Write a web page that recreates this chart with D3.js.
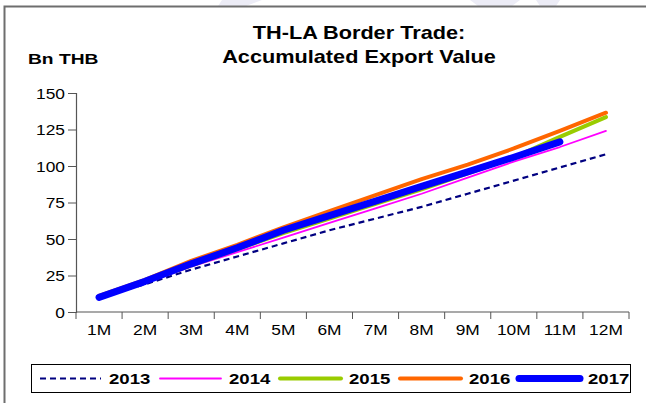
<!DOCTYPE html>
<html>
<head>
<meta charset="utf-8">
<script src="https://cdn.jsdelivr.net/npm/d3@7"></script>
<style>
  html, body { margin: 0; padding: 0; background: #fff; }
  svg { display: block; font-family: "Liberation Sans", Arial, sans-serif; }
</style>
</head>
<body>
<svg id="chart" width="646" height="403"></svg>
<script>
// Accumulated export value, TH-LA border trade (billion THB)
const months = ["1M","2M","3M","4M","5M","6M","7M","8M","9M","10M","11M","12M"];
const yTicks = [0, 25, 50, 75, 100, 125, 150];
const v2013 = [10, 19, 29, 38, 47, 56, 64, 72, 81, 90, 99, 108];
const v2014 = [10, 20, 31, 41, 51, 61, 71, 81, 92, 103, 113, 124];
const v2015 = [10.5, 21, 32, 43, 54, 64, 74, 84, 95, 106, 120, 133.5];
const v2016 = [11, 22, 35, 46, 58, 69, 80, 91, 101, 112, 124, 136.5];
const v2017 = [10, 21, 33, 44, 56, 66, 76, 86, 96, 106, 116.5];
const seriesNames = ["2013", "2014", "2015", "2016", "2017"];

const series = [
  { name: seriesNames[0], values: v2013, color: "#000080", width: 2.2, dash: "6,4", cap: "butt" },
  { name: seriesNames[1], values: v2014, color: "#ff00ff", width: 1.8, dash: null, cap: "round" },
  { name: seriesNames[2], values: v2015, color: "#99cc00", width: 4, dash: null, cap: "round" },
  { name: seriesNames[3], values: v2016, color: "#ff6600", width: 4, dash: null, cap: "round" },
  { name: seriesNames[4], values: v2017, color: "#0000ff", width: 7, dash: null, cap: "round" }
];

const SX = 1.24; // horizontal text stretch
const svg = d3.select("#chart");

// faint background decoration along the top edge
const deco = svg.append("g").attr("fill", "#ececf6");
deco.append("polygon").attr("points", "222,0 262,0 246,6 218,6");
deco.append("polygon").attr("points", "470,0 520,0 512,6 478,6");
deco.append("polygon").attr("points", "536,0 560,0 556,6 540,6");

// outer frame (top and left edges)
svg.append("path")
  .attr("d", "M4.5,403 V6.5 H646")
  .attr("fill", "none").attr("stroke", "#6e6e6e").attr("stroke-width", 2);

function stretchedText(g, x, y, str, opts) {
  return g.append("text")
    .attr("transform", `translate(${x},${y}) scale(${opts.sx || SX},1)`)
    .attr("text-anchor", opts.anchor || "start")
    .attr("font-size", opts.size)
    .attr("font-weight", opts.bold ? "bold" : "normal")
    .attr("fill", "#000")
    .text(str);
}

// titles
stretchedText(svg, 359, 39, "TH-LA Border Trade:", { size: 17.5, bold: true, anchor: "middle" });
stretchedText(svg, 359, 63, "Accumulated Export Value", { size: 17.5, bold: true, anchor: "middle" });
stretchedText(svg, 28, 64, "Bn THB", { size: 15.5, bold: true });

// scales
const x = d3.scaleBand().domain(months).range([76, 629]);
const y = d3.scaleLinear().domain([0, 150]).range([312, 93]);

// y axis
const yAxis = svg.append("g").attr("transform", "translate(76,0)")
  .call(d3.axisLeft(y).tickValues(yTicks).tickSize(8).tickPadding(11).tickFormat(d3.format("d")));
yAxis.select(".domain").attr("stroke", "#555").attr("stroke-width", 1.2);
yAxis.selectAll(".tick line").attr("stroke", "#555");
yAxis.selectAll(".tick text").remove();
yAxis.selectAll(".tick").each(function (d) {
  stretchedText(d3.select(this), -11, 5, d3.format("d")(d), { size: 14, anchor: "end" });
});

// x axis: ticks on category boundaries
const xAxis = svg.append("g").attr("transform", "translate(0,312)");
xAxis.append("line").attr("x1", 76).attr("x2", 629).attr("stroke", "#555").attr("stroke-width", 1.2);
const bounds = months.map(m => x(m)).concat([x.range()[1]]);
xAxis.selectAll("line.tk").data(bounds).join("line").attr("class", "tk")
  .attr("x1", d => d).attr("x2", d => d).attr("y1", 0).attr("y2", 7)
  .attr("stroke", "#555");
months.forEach(m => {
  stretchedText(xAxis, x(m) + x.bandwidth() / 2, 23, m, { size: 14, anchor: "middle" });
});

// lines
const cx = (d, i) => x(months[i]) + x.bandwidth() / 2;
const line = d3.line().x((d, i) => cx(d, i)).y(d => y(d));
const lines = svg.append("g");
series.forEach(s => {
  lines.append("path")
    .datum(s.values)
    .attr("d", line)
    .attr("fill", "none")
    .attr("stroke", s.color)
    .attr("stroke-width", s.width)
    .attr("stroke-linecap", s.cap)
    .attr("stroke-linejoin", "round")
    .attr("stroke-dasharray", s.dash);
});

// legend
const legend = svg.append("g");
legend.append("rect").attr("x", 31.5).attr("y", 364.5).attr("width", 599).attr("height", 28)
  .attr("fill", "#fff").attr("stroke", "#000").attr("stroke-width", 1);
const legendX = [40, 160, 280, 400, 519];
series.forEach((s, i) => {
  const lx = legendX[i];
  legend.append("line")
    .attr("x1", lx).attr("x2", lx + 61).attr("y1", 378.5).attr("y2", 378.5)
    .attr("stroke", s.color).attr("stroke-width", s.width)
    .attr("stroke-linecap", s.cap === "round" ? "round" : "butt")
    .attr("stroke-dasharray", s.dash);
  stretchedText(legend, lx + 69, 384, s.name, { size: 15, bold: true });
});
</script>
</body>
</html>
